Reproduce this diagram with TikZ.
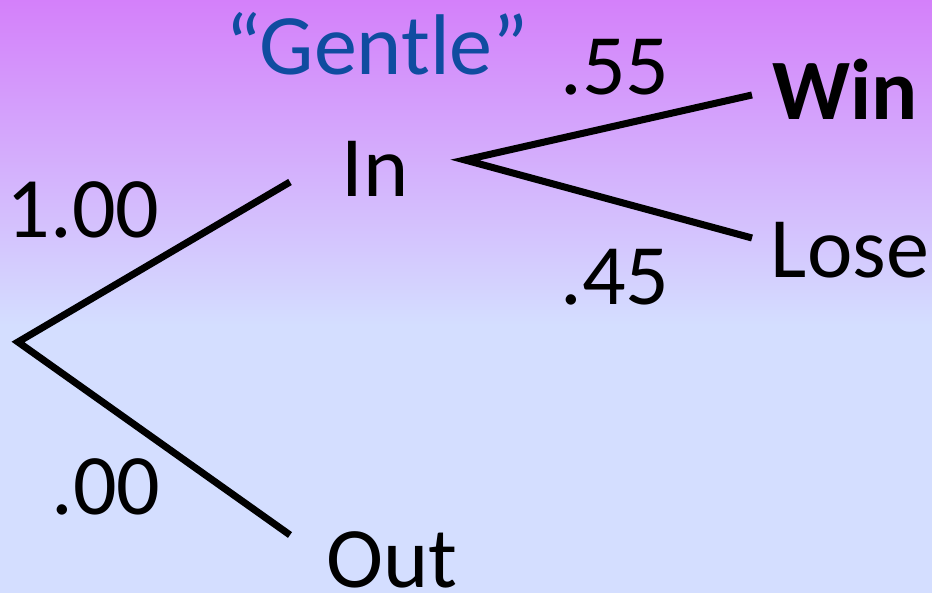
\documentclass[tikz,border=0pt]{standalone}
\usepackage{fontspec}
\setmainfont{Carlito}
\usepackage{tikz}
\usetikzlibrary{positioning}
\definecolor{bgtop}{RGB}{212,128,250}
\definecolor{bgbot}{RGB}{212,222,255}
\definecolor{gentle}{RGB}{16,76,160}
\tikzset{
  branch/.style={line width=4pt},
  lbl/.style={anchor=base,inner sep=0pt,font=\fontsize{49}{58}\selectfont}
}
\begin{document}
\begin{tikzpicture}
\useasboundingbox (0,0) rectangle (18.64,11.86);
\fill[bgbot] (0,0) rectangle (18.64,5.36);
\shade[top color=bgtop,bottom color=bgbot] (0,5.35) rectangle (18.64,11.86);
\coordinate (root) at (0.36,5.02);
\coordinate (inEnd) at (5.8,8.22);
\coordinate (outEnd) at (5.8,1.16);
\coordinate (split) at (9.3,8.66);
\coordinate (winEnd) at (15.04,9.96);
\coordinate (loseEnd) at (15.04,7.10);
\draw[branch] (inEnd) -- (root) -- (outEnd);
\draw[branch] (winEnd) -- (split) -- (loseEnd);
\node[lbl] (in) at (7.5,7.92) {In};
\node[lbl] (out) at (7.84,0.12) {Out};
\node[lbl,font=\fontsize{49}{58}\selectfont\bfseries] (win) at (16.9,9.46) {Win};
\node[lbl] (lose) at (17.0,6.3) {Lose};
\node[lbl] (pwin) at (12.3,9.96) {.55};
\node[lbl] (plose) at (12.3,5.76) {.45};
\node[lbl] (pin) at (1.66,7.1) {1.00};
\node[lbl] (pout) at (2.12,1.56) {.00};
\node[lbl,text=gentle] (gentle) at (7.54,10.36) {“Gentle”};
\end{tikzpicture}
\end{document}
